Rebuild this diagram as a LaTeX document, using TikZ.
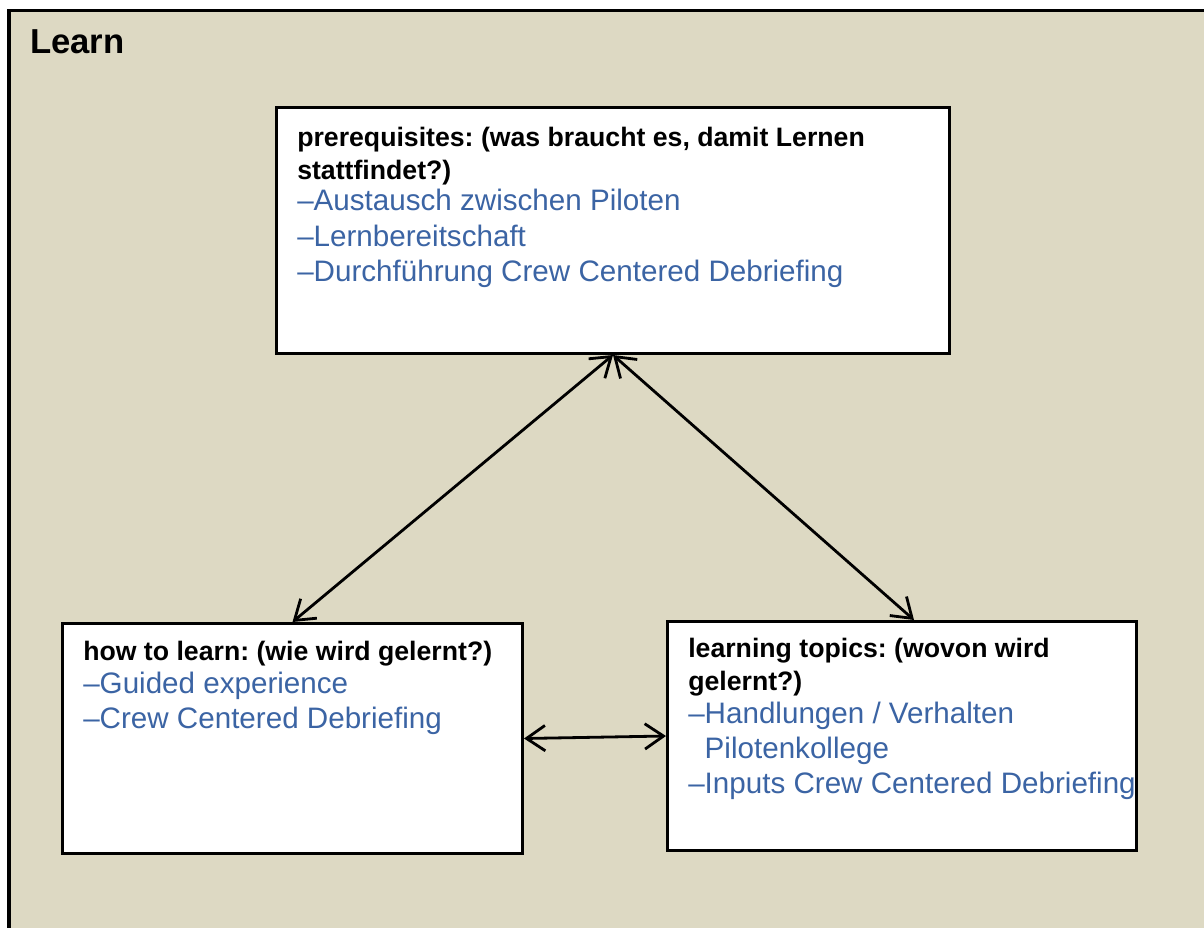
\documentclass[tikz,border=0pt]{standalone}
\usepackage{fontspec}
\setmainfont{Liberation Sans}
\usetikzlibrary{arrows.meta}
\definecolor{tanbg}{HTML}{DDD9C3}
\definecolor{itemblue}{HTML}{3B64A4}
\frenchspacing
\begin{document}
\begin{tikzpicture}[x=0.75pt,y=-0.75pt,
  panel/.style={draw=black, line width=2.25pt, fill=white, rectangle, inner sep=0pt},
  title/.style={anchor=base west, inner sep=0pt, font=\fontsize{26}{30}\selectfont\bfseries},
  head/.style={anchor=base west, inner sep=0pt, font=\fontsize{20}{24}\selectfont\bfseries},
  item/.style={anchor=base west, inner sep=0pt, text=itemblue, font=\fontsize{22.2}{27}\selectfont},
  link/.style={line width=2.1pt, {Straight Barb[length=14pt,width=19pt]}-{Straight Barb[length=14pt,width=19pt]}}
]
\useasboundingbox (0,0) rectangle (1204,928);
% tan panel with its frame running off the right and bottom edges
\fill[tanbg] (9,10.5) rectangle (1204,928);
\draw[line width=2.4pt] (9,928) -- (9,10.5) -- (1204,10.5);
\node[title] (ttl) at (30,53) {Learn};

% boxes
\node[panel, minimum width=504.75pt, minimum height=184.5pt] (pre) at (613,230.5) {};
\node[panel, minimum width=345pt, minimum height=172.5pt] (how) at (292.5,738.5) {};
\node[panel, minimum width=351.75pt, minimum height=171.75pt] (top) at (902,736) {};

% prerequisites
\node[head] (pre1) at (297,146) {prerequisites: (was braucht es, damit Lernen};
\node[head] (pre2) at (297,179) {stattfindet?)};
\node[item] (pre3) at (297,210) {–Austausch zwischen Piloten};
\node[item] (pre4) at (297,246) {–Lernbereitschaft};
\node[item] (pre5) at (297,281) {–Durchführung Crew Centered Debriefing};

% how to learn
\node[head] (how1) at (83,660) {how to learn: (wie wird gelernt?)};
\node[item] (how2) at (83,693) {–Guided experience};
\node[item] (how3) at (83,728) {–Crew Centered Debriefing};

% learning topics
\node[head] (top1) at (688,657) {learning topics: (wovon wird};
\node[head] (top2) at (688,690) {gelernt?)};
\node[item] (top3) at (688,723) {–Handlungen / Verhalten};
\node[item] (top4) at (688,758) {\hphantom{–}Pilotenkollege};
\node[item] (top5) at (688,793) {–Inputs Crew Centered Debriefing};

% connectors
\draw[link] (pre.south) -- (how.north);
\draw[link] (pre.south) -- ([xshift=9pt]top.north);
\draw[link] (how.east) -- (top.west);
\end{tikzpicture}
\end{document}
